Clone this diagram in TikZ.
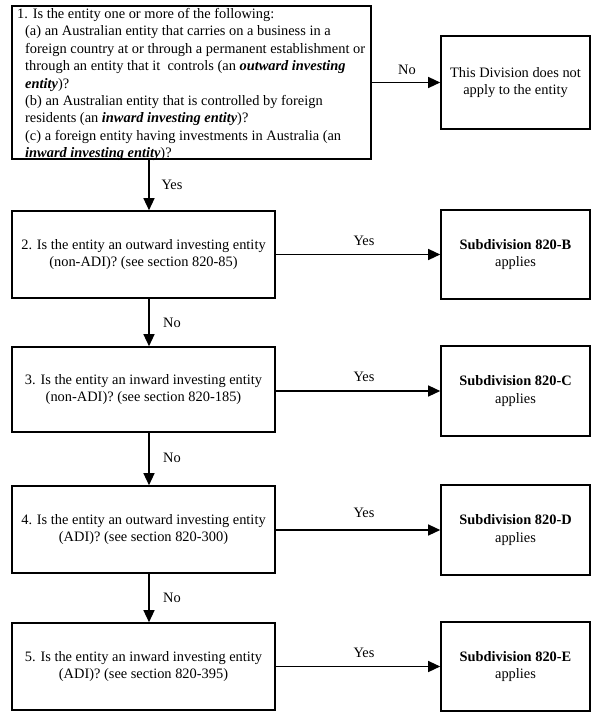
\documentclass[tikz,border=0pt]{standalone}
\usepackage{fontspec}
\setmainfont{Liberation Serif}
\usetikzlibrary{arrows.meta}
\begin{document}
\begin{tikzpicture}[x=1pt,y=-1pt,
  box/.style={draw, line width=1.6pt, inner sep=0pt, align=center, font=\fontsize{14.4}{17.2}\selectfont},
  arr/.style={line width=1.3pt, -{Triangle[length=12pt,width=11pt]}},
  lbl/.style={font=\fontsize{14.4}{17.4}\selectfont, inner sep=0pt}]
\useasboundingbox (0,0) rectangle (600,720);
% question 1
\node[box, minimum width=359pt, minimum height=153pt] (q1) at (191.5,82.5) {};
\node[lbl, align=left, anchor=west] (q1t) at (17,84.5) {1. Is the entity one or more of the following:\\
\hspace*{8pt}(a) an Australian entity that carries on a business in a\\
\hspace*{8pt}foreign country at or through a permanent establishment or\\
\hspace*{8pt}through an entity that it\ \ controls (an \textbf{\textit{outward investing}}\\
\hspace*{8pt}\textbf{\textit{entity}})?\\
\hspace*{8pt}(b) an Australian entity that is controlled by foreign\\
\hspace*{8pt}residents (an \textbf{\textit{inward investing entity}})?\\
\hspace*{8pt}(c) a foreign entity having investments in Australia (an\\
\hspace*{8pt}\textbf{\textit{inward investing entity}})?};
\node[box, minimum width=149pt, minimum height=93pt] (n1) at (515.5,82.5) {This Division does not\\apply to the entity};
% questions 2-5
\node[box, minimum width=263pt, minimum height=87pt] (q2) at (143.5,254.5) {2. Is the entity an outward investing entity\\(non-ADI)? (see section 820-85)};
\node[box, minimum width=263pt, minimum height=85pt] (q3) at (143.5,389.5) {3. Is the entity an inward investing entity\\(non-ADI)? (see section 820-185)};
\node[box, minimum width=263pt, minimum height=87pt] (q4) at (143.5,529.5) {4. Is the entity an outward investing entity\\(ADI)? (see section 820-300)};
\node[box, minimum width=263pt, minimum height=87pt] (q5) at (143.5,666.5) {5. Is the entity an inward investing entity\\(ADI)? (see section 820-395)};
% subdivisions
\node[box, minimum width=149pt, minimum height=89pt] (s2) at (515.5,254.5) {\textbf{Subdivision 820-B}\\applies};
\node[box, minimum width=149pt, minimum height=90pt] (s3) at (515.5,391) {\textbf{Subdivision 820-C}\\applies};
\node[box, minimum width=149pt, minimum height=90pt] (s4) at (515.5,530) {\textbf{Subdivision 820-D}\\applies};
\node[box, minimum width=149pt, minimum height=89pt] (s5) at (515.5,666.5) {\textbf{Subdivision 820-E}\\applies};
% connectors
\coordinate (col) at (149,0);
\draw[arr] (q1.east |- n1.west) -- (n1.west);
\draw[arr] (q1.south -| col) -- (q2.north -| col);
\draw[arr] (q2.south -| col) -- (q3.north -| col);
\draw[arr] (q3.south -| col) -- (q4.north -| col);
\draw[arr] (q4.south -| col) -- (q5.north -| col);
\draw[arr] (q2.east |- s2.west) -- (s2.west);
\draw[arr] (q3.east |- s3.west) -- (s3.west);
\draw[arr] (q4.east |- s4.west) -- (s4.west);
\draw[arr] (q5.east |- s5.west) -- (s5.west);
% labels
\node[lbl] (l1) at (407,70) {No};
\node[lbl] (l2) at (172,185) {Yes};
\node[lbl] (l3) at (172,323) {No};
\node[lbl] (l4) at (172,458) {No};
\node[lbl] (l5) at (172,598) {No};
\node[lbl] (l6) at (364,241) {Yes};
\node[lbl] (l7) at (364,377) {Yes};
\node[lbl] (l8) at (364,513) {Yes};
\node[lbl] (l9) at (364,653) {Yes};
\end{tikzpicture}
\end{document}
